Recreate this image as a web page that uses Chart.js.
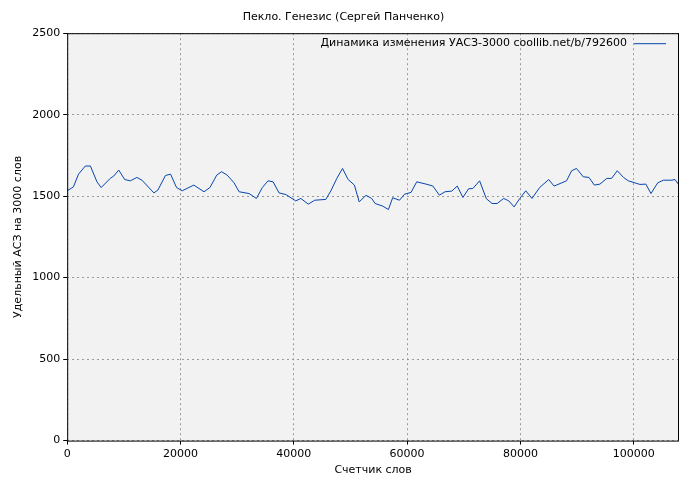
<!DOCTYPE html>
<html>
<head>
<meta charset="utf-8">
<script src="https://cdn.jsdelivr.net/npm/chart.js@4/dist/chart.umd.min.js"></script>
<style>
  html, body { margin: 0; padding: 0; background: #fff; }
  #wrap { width: 700px; height: 480px; }
</style>
</head>
<body>
<div id="wrap"><canvas id="chart"></canvas></div>
<script>
const chartTitle = "Пекло. Генезис (Сергей Панченко)";
const seriesLabel = "Динамика изменения УАСЗ-3000 coollib.net/b/792600";
const xTitle = "Счетчик слов";
const yTitle = "Удельный АСЗ на 3000 слов";
const xTicks = [0, 20000, 40000, 60000, 80000, 100000];
const yTicks = [0, 500, 1000, 1500, 2000, 2500];

const words = [0, 1100, 2000, 3200, 4100, 5250, 6000, 7600, 8200, 9100, 10150, 11150, 12300, 13200,
  15300, 16000, 17350, 18250, 19300, 20300, 22350, 24150, 25200, 26400, 27250, 28250, 29450, 30350,
  32100, 33400, 34450, 35450, 36350, 37400, 38600, 40350, 41250, 42550, 43700, 45650, 46550, 47600,
  48600, 49600, 50700, 51550, 52750, 53750, 54350, 55700, 56700, 57450, 58650, 59550, 60700, 61700,
  63350, 64550, 65700, 66700, 67900, 68850, 69850, 70850, 71600, 72800, 74000, 75000, 75900, 77050,
  77950, 78900, 79900, 80950, 82050, 83400, 85000, 85950, 88150, 89050, 89900, 91100, 92100, 93050,
  94050, 95250, 96100, 97100, 98200, 99050, 101100, 102150, 103050, 104250, 105250, 106750, 107300, 108000];
const values = [1533, 1557, 1635, 1685, 1685, 1588, 1553, 1609, 1623, 1660, 1602, 1594, 1615, 1598,
  1520, 1537, 1627, 1635, 1553, 1533, 1568, 1527, 1553, 1629, 1650, 1629, 1582, 1527,
  1516, 1486, 1553, 1594, 1588, 1520, 1510, 1471, 1486, 1451, 1475, 1480, 1533, 1609,
  1670, 1602, 1568, 1465, 1505, 1486, 1455, 1439, 1418, 1490, 1475, 1512, 1523, 1588,
  1574, 1562, 1506, 1527, 1531, 1562, 1492, 1545, 1547, 1594, 1484, 1455, 1455, 1486,
  1471, 1434, 1486, 1533, 1486, 1553, 1602, 1562, 1594, 1656, 1670, 1619, 1615, 1568,
  1574, 1609, 1609, 1656, 1615, 1594, 1572, 1574, 1516, 1582, 1598, 1598, 1602, 1568];

const fontFam = "'DejaVu Sans', sans-serif";

const plotBg = {
  id: "plotBg",
  beforeDraw(chart) {
    const { ctx, chartArea: a } = chart;
    ctx.save();
    ctx.fillStyle = "#f2f2f2";
    ctx.fillRect(a.left, a.top, a.right - a.left, a.bottom - a.top);
    ctx.restore();
  },
  afterDraw(chart) {
    const { ctx, chartArea: a } = chart;
    ctx.save();
    ctx.strokeStyle = "#000";
    ctx.lineWidth = 1;
    ctx.beginPath();
    ctx.moveTo(a.left + 0.5, a.top);
    ctx.lineTo(a.left + 0.5, a.bottom + 0.5);
    ctx.lineTo(a.right, a.bottom + 0.5);
    ctx.moveTo(a.right - 0.5, a.top);
    ctx.lineTo(a.right - 0.5, a.bottom);
    ctx.moveTo(a.left, a.top + 0.5);
    ctx.lineTo(a.right, a.top + 0.5);
    ctx.stroke();
    // legend inside top right
    ctx.font = "11px " + fontFam;
    ctx.fillStyle = "#000";
    ctx.textAlign = "right";
    ctx.textBaseline = "middle";
    const y = a.top + 10;
    ctx.fillText(seriesLabel, a.right - 52, y);
    ctx.strokeStyle = "#0645ad";
    ctx.beginPath();
    ctx.moveTo(a.right - 45, y + 0.5);
    ctx.lineTo(a.right - 13, y + 0.5);
    ctx.stroke();
    ctx.restore();
  }
};

const tickFont = { family: fontFam, size: 11 };

new Chart(document.getElementById("chart"), {
  type: "line",
  data: {
    datasets: [{
      label: seriesLabel,
      data: words.map((w, i) => ({ x: w, y: values[i] })),
      borderColor: "#0645ad",
      borderWidth: 1,
      pointRadius: 0,
      tension: 0
    }]
  },
  options: {
    responsive: true,
    maintainAspectRatio: false,
    animation: false,
    layout: { padding: { left: 8, right: 21, top: 1, bottom: 3 } },
    plugins: {
      legend: { display: false },
      tooltip: { enabled: false },
      title: {
        display: true, text: chartTitle, color: "#000",
        font: { family: fontFam, size: 11, weight: "normal" },
        padding: { top: 10, bottom: 9 }
      }
    },
    scales: {
      x: {
        type: "linear", min: 0, max: 108000,
        afterBuildTicks: s => { s.ticks = xTicks.map(v => ({ value: v })); },
        ticks: { color: "#000", font: tickFont, maxRotation: 0, autoSkip: false,
          callback: v => String(v) },
        grid: { color: "#999", tickColor: "#000", tickLength: 4 },
        border: { display: false, dash: [2, 3] },
        title: { display: true, text: xTitle, color: "#000", font: tickFont, padding: 0 }
      },
      y: {
        min: 0, max: 2500,
        afterBuildTicks: s => { s.ticks = yTicks.map(v => ({ value: v })); },
        ticks: { color: "#000", font: tickFont, callback: v => String(v) },
        grid: { color: "#999", tickColor: "#000", tickLength: 4 },
        border: { display: false, dash: [2, 3] },
        title: { display: true, text: yTitle, color: "#000", font: tickFont, padding: 4 }
      }
    }
  },
  plugins: [plotBg]
});
</script>
</body>
</html>
